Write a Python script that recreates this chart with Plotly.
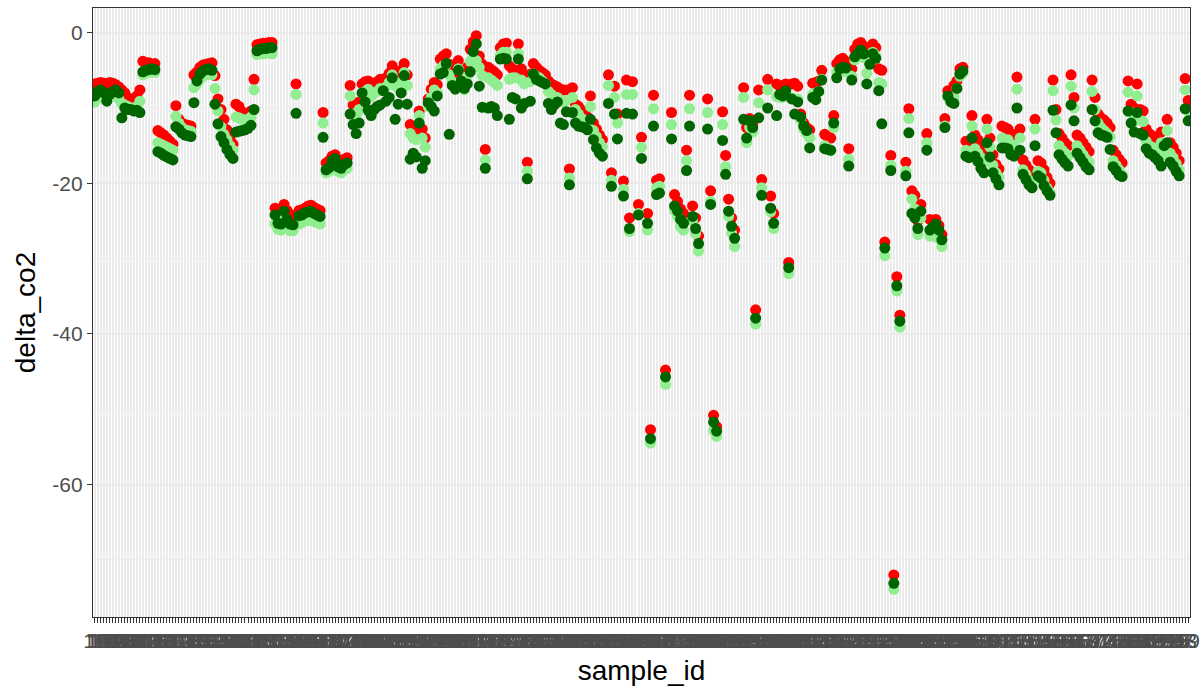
import plotly.graph_objects as go

# sample identifiers, ordered as text (1, 10, 100, 101, ...)
sample_id = sorted(str(k) for k in range(1, 366))

# delta_co2 per sample for the three variants (None = no measurement)
delta_red = [
    -6.8, -6.7, -6.6, -6.7, -6.8, -6.6, -6.7, -6.9, -7.2, -7.6,
    -8.0, -8.6, -9.0, -9.2, -8.4, -7.6, -3.8, -4.0, -4.0, -4.2,
    -4.1, -13.0, -13.3, -13.6, -14.0, -14.4, -14.8, -9.7, -11.5, -12.0,
    -12.2, -12.3, -12.4, -5.6, -5.2, -4.6, -4.3, -4.2, -4.1, -4.0,
    -5.7, -8.8, -10.2, -11.5, -12.9, -14.1, -14.8, -9.5, -9.8, -10.5,
    -11.0, -10.8, -10.4, -6.2, -1.6, -1.5, -1.4, -1.4, -1.3, -1.3,
    -23.3, -24.0, -23.8, -22.8, -23.6, -24.1, -24.3, -6.8, -23.6, -23.5,
    -23.3, -23.0, -22.9, -23.2, -23.4, -23.6, -10.6, -17.3, -17.0, -16.4,
    -16.2, -16.9, -17.1, -16.8, -16.6, -7.0, -9.6, -10.0, -9.2, -6.8,
    -6.5, -6.4, -7.3, -6.8, -6.5, -6.2, -6.4, -6.0, -5.4, -4.4,
    -5.8, -6.3, -5.0, -4.1, -5.6, -12.2, -12.8, -13.0, -10.4, -12.8,
    -14.0, -8.8, -7.5, -6.6, -6.9, -3.5, -3.1, -2.8, -4.2, -5.0,
    -5.6, -3.7, -5.8, -6.8, -4.6, -2.2, -1.2, -0.4, -3.1, -4.2,
    -15.5, -4.6, -4.9, -5.2, -5.6, -2.0, -1.5, -1.4, -4.4, -4.8,
    -5.0, -1.5, -4.8, -5.8, -17.2, -5.5, -4.1, -4.6, -5.0, -5.3,
    -5.6, -6.4, -6.8, -7.0, -7.2, -7.5, -7.6, -7.6, -18.1, -7.3,
    -9.5, -9.8, -10.3, -10.6, -11.2, -8.4, -12.0, -12.8, -13.6, -14.2,
    None, -5.6, -18.6, -7.1, -10.8, None, -19.7, -6.3, -24.6, -6.5,
    None, -22.8, -13.9, None, -24.0, -52.7, -8.3, -19.6, -19.4, None,
    -44.8, None, -10.6, -21.5, -22.4, -23.4, -24.0, -15.6, -8.3, -23.0,
    -24.6, -27.0, None, None, -8.8, -21.0, -50.8, -52.3, None, -10.5,
    -16.3, -22.1, -24.6, -26.2, None, None, -7.3, -12.6, -11.4, -12.2,
    -36.8, -7.6, -19.5, None, -6.2, -21.7, -24.0, -6.8, -7.1, -7.0,
    -6.8, -30.5, -6.8, -6.7, -7.1, -10.8, -12.0, -12.6, -12.9, -6.7,
    -6.6, -6.4, -5.0, -13.5, -13.8, -14.0, -11.0, -4.1, -3.6, -3.4,
    -3.8, -15.4, -4.8, -2.2, -1.5, -1.3, -1.8, -3.4, -2.8, -1.5,
    -2.0, -4.8, -5.0, -27.8, None, -16.3, -72.0, -32.4, -37.5, None,
    -17.2, -10.1, -21.0, -21.6, -25.0, -22.8, None, -13.4, -24.8, -25.0,
    -24.8, -25.6, -26.8, -11.4, -7.7, -7.8, -7.0, -6.4, -4.8, -4.6,
    -14.4, -14.6, -11.0, -13.6, -14.2, -14.8, -15.4, -11.5, -14.0, -16.2,
    -17.5, -18.1, -12.4, -12.6, -12.8, -13.4, -13.6, -5.9, -12.8, -16.9,
    -17.6, -18.2, -18.8, -11.5, -17.0, -17.3, -18.2, -19.2, -20.0, -6.3,
    -10.2, -13.4, -14.0, -14.6, -15.0, -5.6, -8.6, -13.6, -14.0, -14.6,
    -15.2, -15.8, -6.3, -8.6, -10.8, -11.3, -11.6, -12.0, -12.6, -15.6,
    -16.2, -16.8, -17.3, None, -6.4, -9.5, -10.0, -6.8, -10.2, -10.4,
    -12.8, -13.4, -13.7, -14.0, -14.4, -13.2, -14.8, -11.5, -14.6, -15.2,
    -16.0, -17.0, None, -6.1, -9.0,
]

delta_lightgreen = [
    -9.2, -8.6, -8.4, -8.6, -9.0, -8.4, -8.2, -8.4, -8.8, -9.4,
    -9.6, -9.8, -10.0, -10.2, -9.8, -9.1, -5.6, -5.4, -5.3, -5.2,
    -5.3, -14.6, -14.8, -15.0, -15.2, -15.4, -15.6, -11.1, -12.0, -12.6,
    -12.9, -13.0, -13.1, -7.3, -6.8, -6.2, -5.8, -5.6, -5.5, -5.6,
    -7.4, -10.4, -12.5, -13.5, -14.2, -15.0, -15.6, -11.2, -11.3, -11.5,
    -11.6, -11.5, -11.2, -7.6, -2.9, -2.8, -2.8, -2.7, -2.7, -2.8,
    -25.4, -26.1, -26.2, -24.8, -25.8, -26.3, -26.3, -8.2, -25.4, -25.2,
    -25.0, -24.9, -24.9, -25.1, -25.2, -25.4, -12.0, -18.6, -18.4, -17.8,
    -17.6, -18.4, -18.6, -18.2, -18.0, -8.4, -10.8, -11.0, -10.2, -8.0,
    -7.8, -7.5, -8.5, -8.0, -7.8, -7.4, -7.5, -7.2, -6.6, -5.6,
    -7.0, -7.4, -6.5, -5.3, -7.0, -13.4, -14.0, -14.2, -11.0, -14.0,
    -15.2, -9.8, -8.6, -7.6, -8.0, -4.8, -4.4, -4.2, -5.6, -6.5,
    -6.8, -4.8, -6.9, -7.6, -5.8, -3.8, -3.4, -3.7, -4.6, -5.7,
    -16.9, -6.0, -6.3, -6.6, -7.0, -3.0, -2.6, -2.6, -6.2, -6.0,
    -6.0, -2.8, -6.3, -6.8, -18.4, -6.5, -5.5, -5.8, -6.0, -6.4,
    -6.8, -7.8, -8.2, -8.6, -8.6, -9.0, -9.2, -9.0, -19.3, -8.6,
    -10.2, -10.8, -11.4, -11.6, -12.2, -9.8, -13.0, -13.8, -14.6, -15.2,
    None, -7.0, -19.6, -8.6, -12.0, None, -20.8, -8.2, -26.4, -8.2,
    None, -24.0, -15.2, None, -26.2, -54.5, -10.1, -20.6, -20.4, None,
    -46.7, None, -12.2, -23.6, -24.4, -25.8, -26.2, -17.0, -10.1, -25.0,
    -26.7, -29.0, None, None, -10.6, -22.4, -52.8, -53.6, None, -12.2,
    -17.8, -24.4, -26.6, -28.4, None, None, -8.6, -14.6, -12.6, -13.2,
    -38.7, -9.3, -20.6, None, -7.6, -23.8, -26.0, -8.5, -8.6, -8.6,
    -8.4, -32.0, -8.6, -8.8, -8.8, -11.6, -12.8, -13.4, -14.0, -8.2,
    -8.0, -7.8, -6.2, -15.0, -15.4, -15.7, -12.6, -5.2, -5.0, -4.8,
    -5.2, -16.8, -5.8, -3.6, -3.0, -2.8, -3.3, -5.4, -3.8, -2.6,
    -3.0, -6.6, -6.8, -29.6, None, -17.6, -73.9, -34.3, -39.1, None,
    -18.4, -11.4, -22.1, -23.4, -26.8, -24.6, None, -14.6, -27.0, -27.0,
    -26.8, -27.4, -28.4, -12.4, -8.6, -9.0, -8.6, -7.4, -5.8, -5.4,
    -15.6, -15.9, -12.4, -15.4, -16.0, -16.6, -17.2, -12.8, -15.2, -17.6,
    -18.6, -19.2, -14.0, -14.2, -14.2, -14.8, -15.0, -7.5, -14.0, -18.2,
    -18.8, -19.6, -20.0, -12.8, -18.4, -18.6, -19.6, -20.6, -21.2, -7.7,
    -11.6, -15.0, -15.6, -16.0, -16.4, -7.1, -10.0, -15.0, -15.6, -16.2,
    -16.8, -17.2, -7.8, -10.2, -12.0, -12.6, -13.0, -13.4, -13.9, -17.0,
    -17.6, -18.2, -18.8, None, -7.9, -10.6, -11.8, -8.4, -11.6, -11.8,
    -14.4, -15.0, -15.2, -15.6, -16.0, -14.6, -16.2, -13.0, -16.0, -16.6,
    -17.4, -18.2, None, -7.6, -10.4,
]

delta_darkgreen = [
    -8.4, -7.8, -7.6, -8.0, -9.1, -8.2, -7.8, -7.6, -8.0, -11.3,
    -10.0, -10.2, -10.2, -10.4, -10.3, -10.6, -5.2, -5.0, -4.9, -4.8,
    -4.9, -15.8, -16.0, -16.3, -16.5, -16.7, -16.9, -12.5, -12.8, -13.3,
    -13.6, -13.7, -13.8, -9.3, -6.4, -5.5, -5.1, -4.9, -4.8, -5.0,
    -9.5, -12.1, -13.8, -14.6, -15.5, -16.2, -16.7, -13.2, -13.1, -13.0,
    -12.9, -12.7, -12.3, -10.2, -2.4, -2.2, -2.1, -2.1, -2.0, -2.0,
    -24.2, -25.3, -25.4, -23.7, -24.8, -25.4, -25.5, -10.7, -24.3, -24.2,
    -23.9, -23.8, -23.7, -24.0, -24.2, -24.4, -13.9, -18.2, -17.9, -17.0,
    -16.7, -17.8, -18.0, -17.5, -17.3, -10.8, -12.2, -13.4, -12.0, -8.0,
    -9.2, -10.3, -11.0, -10.2, -9.8, -9.6, -7.7, -9.1, -8.6, -6.0,
    -11.5, -9.5, -8.0, -5.7, -9.5, -16.8, -16.0, -16.5, -12.0, -18.0,
    -17.0, -9.3, -9.8, -10.4, -8.4, -5.5, -5.3, -4.1, -13.5, -7.0,
    -7.5, -5.0, -6.4, -7.4, -6.8, -5.2, -2.5, -1.5, -7.1, -9.9,
    -18.0, -10.0, -9.8, -10.0, -11.0, -3.5, -3.4, -3.5, -11.5, -8.6,
    -8.8, -3.5, -10.0, -9.4, -19.4, -9.1, -5.5, -6.2, -6.4, -6.6,
    -6.8, -9.4, -10.2, -9.6, -9.2, -12.0, -12.2, -10.5, -20.2, -10.6,
    -12.0, -12.4, -12.5, -12.6, -12.9, -11.5, -14.2, -15.3, -16.0, -16.4,
    None, -9.4, -20.4, -10.8, -14.1, None, -21.7, -10.7, -26.0, -10.8,
    None, -24.2, -16.7, None, -25.3, -53.9, -12.4, -21.5, -21.3, None,
    -45.7, None, -14.1, -23.0, -23.7, -24.8, -25.3, -18.3, -12.4, -24.4,
    -26.0, -28.0, None, None, -12.8, -22.8, -51.7, -52.9, None, -14.3,
    -18.8, -23.7, -25.7, -27.3, None, None, -11.5, -14.0, -11.7, -12.6,
    -37.9, -11.3, -21.6, None, -10.0, -23.3, -25.3, -11.0, -8.2, -8.4,
    -7.7, -31.2, -8.8, -10.8, -9.2, -11.2, -12.4, -13.0, -15.3, -8.6,
    -8.9, -7.8, -6.3, -15.4, -15.5, -15.6, -12.0, -6.0, -4.8, -4.6,
    -4.7, -17.7, -6.3, -3.2, -2.8, -2.3, -2.8, -6.8, -4.2, -2.8,
    -3.4, -7.7, -12.1, -28.6, None, -18.3, -73.1, -33.6, -38.3, None,
    -19.0, -13.3, -24.0, -24.6, -26.0, -23.7, None, -15.6, -26.2, -25.8,
    -25.4, -26.2, -27.5, -12.6, -8.4, -9.2, -9.4, -7.4, -5.5, -5.1,
    -16.4, -16.6, -14.0, -16.4, -17.1, -18.0, -18.6, -14.6, -16.5, -18.6,
    -19.4, -20.2, -15.3, -15.3, -15.4, -16.2, -16.4, -10.0, -15.6, -18.8,
    -19.5, -20.2, -20.6, -15.0, -19.0, -19.3, -20.3, -21.0, -21.6, -10.3,
    -13.3, -16.2, -16.8, -17.3, -17.7, -9.6, -11.7, -16.0, -16.6, -17.2,
    -17.8, -18.2, -10.2, -11.7, -13.3, -13.6, -13.7, -13.9, -15.5, -17.8,
    -18.3, -18.9, -19.1, None, -10.4, -12.0, -13.2, -10.6, -13.4, -13.6,
    -15.4, -16.0, -16.2, -16.6, -17.0, -17.7, -15.0, -14.6, -17.2, -17.7,
    -18.4, -19.0, None, -10.1, -11.7,
]

y_major = [-60, -40, -20, 0]
y_major_text = ["-60", "-40", "-20", "0"]
y_minor = [-70, -50, -30, -10]

for series in (delta_red, delta_lightgreen, delta_darkgreen):
    assert len(series) == len(sample_id), len(series)

# y range: data extent padded by 5% on each side
values = [v for s in (delta_red, delta_lightgreen, delta_darkgreen) for v in s if v is not None]
lo, hi = min(values), max(values)
pad = 0.05 * (hi - lo)

fig = go.Figure()
for vals, colour in ((delta_red, "#FF0000"),
                     (delta_lightgreen, "#90EE90"),
                     (delta_darkgreen, "#006400")):
    fig.add_trace(go.Scatter(
        x=sample_id, y=vals, mode="markers",
        marker=dict(color=colour, size=11, line=dict(width=0)),
        showlegend=False,
    ))

font_family = "Liberation Sans, Arial, sans-serif"

fig.update_layout(
    width=1200, height=693,
    margin=dict(l=93, r=10, t=8, b=76),
    paper_bgcolor="white", plot_bgcolor="white",
    font=dict(family=font_family, color="#000000"),
)

fig.update_xaxes(
    type="category", categoryorder="array", categoryarray=sample_id,
    range=[-0.6, len(sample_id) - 0.4],
    tickmode="array", tickvals=sample_id, ticktext=sample_id, tickangle=0,
    ticks="outside", ticklen=5, tickwidth=1.3, tickcolor="#333333",
    tickfont=dict(size=21, color="#4D4D4D"),
    showgrid=True, gridcolor="#EBEBEB", gridwidth=2,
    showline=True, linecolor="#333333", linewidth=1.3, mirror=True,
    zeroline=False, automargin=False,
    title=dict(text="sample_id", font=dict(size=28, color="#000000"), standoff=9),
)

fig.update_yaxes(
    range=[lo - pad, hi + pad],
    tickmode="array", tickvals=y_major, ticktext=y_major_text,
    ticks="outside", ticklen=5, tickwidth=1.3, tickcolor="#333333",
    tickfont=dict(size=21, color="#4D4D4D"),
    showgrid=True, gridcolor="#EBEBEB", gridwidth=2,
    minor=dict(tickmode="array", tickvals=y_minor, showgrid=True,
               gridcolor="#EBEBEB", gridwidth=1, ticks=""),
    showline=True, linecolor="#333333", linewidth=1.3, mirror=True,
    zeroline=False, automargin=False,
    title=dict(text="delta_co2", font=dict(size=28, color="#000000"), standoff=8),
)

fig.write_html("out.html")
